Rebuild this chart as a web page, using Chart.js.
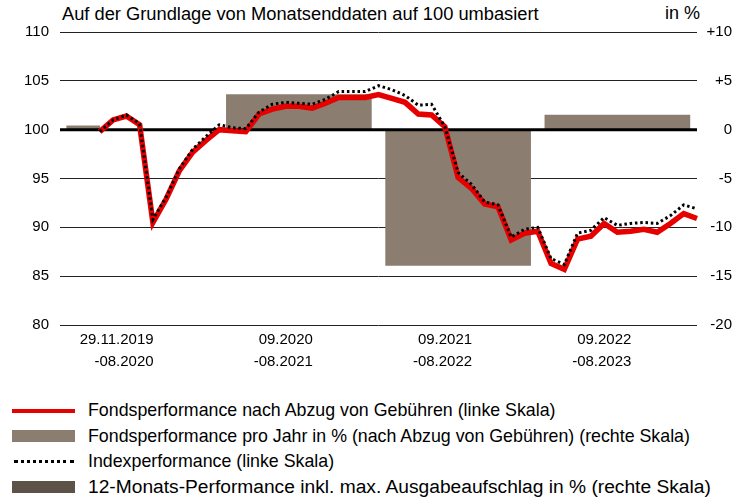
<!DOCTYPE html>
<html>
<head>
<meta charset="utf-8">
<script src="https://cdn.jsdelivr.net/npm/chart.js@4.4.1/dist/chart.umd.min.js"></script>
<style>
    body { margin: 0; background: #fff; width: 742px; height: 499px; position: relative; overflow: hidden;
           font-family: 'Liberation Sans', Arial, sans-serif; color: #000; }
    #wrap { position: absolute; left: 0; top: 0; width: 742px; height: 380px; }
    .title { position: absolute; top: 3px; left: 62px; font-size: 18.3px; white-space: nowrap; }
    .unit { position: absolute; top: 3px; left: 665px; font-size: 18px; }
    #legend { position: absolute; left: 12px; top: 398px; }
    .item { height: 25.5px; display: flex; align-items: center; font-size: 17.8px; white-space: nowrap; }
    .item.big { font-size: 19.2px; }
    .sw { width: 63px; margin-right: 13px; flex: none; }
</style>
</head>
<body>
<div class="title">Auf der Grundlage von Monatsenddaten auf 100 umbasiert</div>
<div class="unit">in %</div>
<div id="wrap"><canvas id="perfChart" width="742" height="380"></canvas></div>
<div id="legend">
    <div class="item"><span class="sw" style="height:4px;background:#e60000"></span>Fondsperformance nach Abzug von Gebühren (linke Skala)</div>
    <div class="item"><span class="sw" style="height:12px;background:#8b7d6f"></span>Fondsperformance pro Jahr in % (nach Abzug von Gebühren) (rechte Skala)</div>
    <div class="item"><span class="sw" style="height:0;border-top:3px dotted #000;width:60px;margin-left:2px;margin-right:14px"></span>Indexperformance (linke Skala)</div>
    <div class="item big"><span class="sw" style="height:12px;background:#5c5247"></span>12-Monats-Performance inkl. max. Ausgabeaufschlag in % (rechte Skala)</div>
</div>
<script>
// Monatsenddaten 29.11.2019 - 08.2023
const months = ['11.2019', '12.2019',
    '01.2020', '02.2020', '03.2020', '04.2020', '05.2020', '06.2020', '07.2020', '08.2020', '09.2020', '10.2020', '11.2020', '12.2020',
    '01.2021', '02.2021', '03.2021', '04.2021', '05.2021', '06.2021', '07.2021', '08.2021', '09.2021', '10.2021', '11.2021', '12.2021',
    '01.2022', '02.2022', '03.2022', '04.2022', '05.2022', '06.2022', '07.2022', '08.2022', '09.2022', '10.2022', '11.2022', '12.2022',
    '01.2023', '02.2023', '03.2023', '04.2023', '05.2023', '06.2023', '07.2023', '08.2023'];

// Fonds (nach Gebühren), linke Skala
const fundPerf = [99.8, 101.0, 101.4, 100.5, 90.5, 92.9, 95.8, 97.7, 98.9, 100.0, 99.9, 99.8,
    101.6, 102.1, 102.4, 102.4, 102.2, 102.7, 103.3, 103.3, 103.3, 103.6, 103.2, 102.8,
    101.6, 101.5, 100.3, 95.1, 94.0, 92.4, 92.1, 88.7, 89.4, 89.6, 86.3, 85.7,
    88.8, 89.1, 90.4, 89.5, 89.6, 89.8, 89.5, 90.4, 91.4, 90.9];

// Index, linke Skala
const indexPerf = [99.8, 101.0, 101.5, 100.6, 90.8, 93.1, 96.0, 98.0, 99.3, 100.5, 100.2, 100.1,
    101.8, 102.6, 102.8, 102.7, 102.6, 103.1, 103.9, 103.9, 103.9, 104.5, 104.1, 103.5,
    102.5, 102.6, 100.3, 95.6, 94.4, 92.6, 92.3, 89.0, 89.8, 90.0, 86.8, 86.2,
    89.4, 89.7, 91.0, 90.2, 90.4, 90.5, 90.4, 91.2, 92.3, 91.9];

// Jahresperformance in %, rechte Skala
const periods = [['29.11.2019', '-08.2020'], ['09.2020', '-08.2021'], ['09.2021', '-08.2022'], ['09.2022', '-08.2023']];
const yearPerf = [0.4, 3.6, -13.9, 1.5];
const firstPeriodMonth = -1.25; // erstes (Rumpf-)Jahr, vor dem Start der Linien

const leftTicks = [80, 85, 90, 95, 100, 105, 110];
const rightTicks = [-20, -15, -10, -5, 0, 5, 10];

const font = { family: "'Liberation Sans', Arial, sans-serif", size: 15 };

// dicke Nulllinie (100) zwischen Balken und Linien
const baseLine = {
    id: 'baseLine',
    beforeDatasetDraw(chart, args) {
        if (args.index !== 0) return;
        const ctx = chart.ctx, a = chart.chartArea;
        const y = chart.scales.y.getPixelForValue(100);
        ctx.save();
        ctx.strokeStyle = '#000';
        ctx.lineWidth = 3;
        ctx.beginPath();
        ctx.moveTo(a.left, y);
        ctx.lineTo(a.right, y);
        ctx.stroke();
        ctx.restore();
    }
};

const ctx = document.getElementById('perfChart').getContext('2d');
new Chart(ctx, {
    data: {
        labels: periods,
        datasets: [
            {
                type: 'line', label: 'Fondsperformance', order: 1,
                data: fundPerf.map((v, i) => ({ x: i, y: v })),
                xAxisID: 'xl', yAxisID: 'y',
                borderColor: '#e60000', borderWidth: 5.5, pointRadius: 0, tension: 0,
                borderJoinStyle: 'miter', clip: false,
            },
            {
                type: 'line', label: 'Indexperformance', order: 0,
                data: indexPerf.map((v, i) => ({ x: i, y: v })),
                xAxisID: 'xl', yAxisID: 'y',
                borderColor: '#000', borderWidth: 3, borderDash: [2.5, 2.8], pointRadius: 0, tension: 0,
                clip: false,
            },
            {
                type: 'bar', label: 'Jahresperformance', order: 2,
                data: yearPerf.map((v, i) => (i === 0 ? null : v)),
                xAxisID: 'x', yAxisID: 'yr',
                backgroundColor: '#8b7d6f', grouped: false, barThickness: 145,
            },
            {
                type: 'bar', label: 'Jahresperformance Rumpfjahr', order: 3,
                data: [{ x: firstPeriodMonth, y: yearPerf[0] }],
                xAxisID: 'xl', yAxisID: 'yr',
                backgroundColor: '#8b7d6f', grouped: false, barThickness: 33,
            },
        ],
    },
    options: {
        responsive: false,
        animation: false,
        layout: { padding: { top: 32, right: 10, left: 0, bottom: 0 } },
        plugins: { legend: { display: false }, tooltip: { enabled: false } },
        scales: {
            x: {
                type: 'category', position: 'bottom', offset: true,
                grid: { display: false }, border: { display: false },
                ticks: { color: '#000', font: { ...font, lineHeight: '22px' }, padding: -4, align: 'end', labelOffset: 14,
                         maxRotation: 0, autoSkip: false },
                afterFit(s) { s.height = 55; },
            },
            xl: {
                type: 'linear', display: false, min: -3, max: 45, offset: false,
                grid: { offset: false },
            },
            y: {
                position: 'left', min: 80, max: 110,
                afterBuildTicks(s) { s.ticks = leftTicks.map(v => ({ value: v })); },
                grid: { color: '#222', lineWidth: 1, drawTicks: false },
                border: { display: false },
                ticks: { color: '#000', font, padding: 11 },
                afterFit(s) { s.width = 60; },
            },
            yr: {
                position: 'right', min: -20, max: 10,
                afterBuildTicks(s) { s.ticks = rightTicks.map(v => ({ value: v })); },
                grid: { display: false, drawTicks: false },
                border: { display: false },
                ticks: { color: '#000', font, crossAlign: 'far', callback: v => (v > 0 ? '+' + v : String(v)) },
                afterFit(s) { s.width = 35; },
            },
        },
    },
    plugins: [baseLine],
});
</script>
</body>
</html>
